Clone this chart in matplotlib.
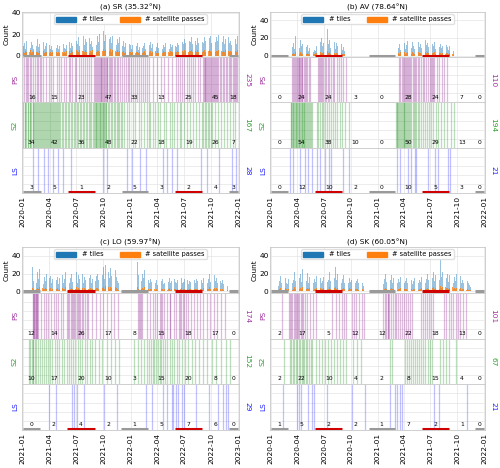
import numpy as np
import pandas as pd
import matplotlib
matplotlib.use("Agg")
import matplotlib.pyplot as plt
import matplotlib.dates as mdates
from matplotlib.patches import Patch

# ---------------------------------------------------------------
# data
# tiles / passes: one value per 4-day bin from the panel start
# PS/S2/LS: acquisition days counted from the panel start
# ---------------------------------------------------------------
titles = ["(a) SR (35.32°N)", "(b) AV (78.64°N)", "(c) LO (59.97°N)", "(d) SK (60.05°N)"]
starts = ["2020-01-01", "2020-01-01", "2021-01-01", "2020-01-01"]

tiles_a = [9, 12, 6, 14, 8, 11, 7, 13, 10, 6, 12, 9, 15, 8, 11, 7, 10, 13, 6, 9, 12, 8, 10,
           6, 9, 5, 11, 8, 7, 10, 6, 9, 5, 8, 11, 7, 6, 10, 8, 13, 7, 12, 9, 16, 10, 14,
           11, 17, 9, 14, 12, 18, 10, 15, 13, 9, 16, 11, 14, 8, 12, 15, 10, 18, 13, 20, 12, 16, 23,
           14, 19, 11, 22, 15, 17, 12, 18, 13, 16, 10, 15, 12, 17, 11, 9, 14, 8, 12, 15, 7, 11, 10,
           6, 10, 13, 7, 9, 12, 5, 8, 11, 7, 9, 12, 6, 10, 8, 10, 13, 7, 11, 9, 14, 8, 12,
           7, 11, 9, 6, 10, 8, 12, 7, 9, 6, 11, 8, 10, 7, 9, 8, 12, 10, 14, 9, 13, 11, 15,
           12, 16, 10, 14, 13, 17, 11, 15, 14, 10, 16, 12, 15, 11, 13, 12, 17, 14, 19, 13, 16, 18, 12,
           15, 20, 13, 17, 14, 19, 12, 16, 13, 18, 11, 15, 14, 17, 12, 14, 10, 16, 12, 15, 11, 18]
passes_a = [3, 2, 4, 3, 2, 3, 5, 2, 3, 4, 2, 3, 3, 2, 4, 2, 3, 4, 2, 3, 3, 5, 2,
            3, 2, 3, 4, 2, 3, 2, 3, 2, 4, 3, 2, 3, 2, 4, 3, 4, 2, 5, 3, 4, 3, 5,
            4, 3, 5, 3, 4, 4, 3, 5, 3, 4, 2, 4, 3, 5, 3, 4, 3, 5, 4, 3, 5, 4, 6,
            4, 5, 3, 5, 4, 6, 3, 5, 3, 4, 3, 5, 3, 4, 3, 3, 4, 2, 3, 4, 2, 3, 3,
            2, 3, 4, 2, 3, 3, 2, 3, 3, 2, 3, 4, 2, 3, 2, 3, 4, 2, 3, 3, 4, 2, 4,
            2, 3, 3, 2, 4, 3, 3, 2, 3, 2, 4, 3, 3, 2, 3, 3, 4, 3, 4, 3, 4, 3, 5,
            4, 5, 3, 4, 4, 5, 3, 4, 4, 3, 5, 3, 4, 4, 3, 4, 5, 3, 5, 4, 5, 4, 3,
            4, 5, 3, 4, 4, 5, 3, 4, 3, 4, 3, 5, 4, 4, 3, 4, 3, 4, 3, 4, 3, 5]

tiles_b = ([0] * 18 +
           [10, 14, 8, 22, 12, 16, 9, 18, 11, 13, 7, 15, 10, 12, 6, 9, 5, 8, 4, 7, 6, 11,
            12, 9, 15, 20, 11, 14, 17, 10, 30, 13, 18, 9, 21, 12, 16, 8, 14, 11, 17, 9, 13, 7, 10, 6, 5] +
           [0] * 44 +
           [9, 13, 7, 16, 11, 14, 8, 12, 17, 10, 13, 9, 15, 11, 8, 14, 12, 16, 10, 13, 9, 15, 11, 18,
            12, 14, 10, 16, 9, 13, 11, 15, 8, 12, 14, 10, 13, 9, 11, 15, 8, 12, 10, 7, 11, 6, 9, 5] +
           [0] * 26)
passes_b = ([0] * 18 +
            [2, 3, 2, 4, 3, 3, 2, 4, 3, 2, 3, 2, 2, 3, 2, 2, 2, 3, 2, 2, 3, 3,
             3, 2, 4, 3, 3, 4, 3, 2, 5, 3, 4, 2, 4, 3, 3, 2, 3, 3, 4, 2, 3, 2, 2, 2, 2] +
            [0] * 44 +
            [3, 2, 4, 3, 3, 4, 2, 3, 4, 3, 3, 2, 4, 3, 2, 4, 3, 4, 3, 3, 2, 4, 3, 4,
             3, 4, 3, 4, 2, 3, 3, 4, 2, 3, 4, 3, 3, 2, 3, 4, 2, 3, 3, 2, 3, 2, 2, 2] +
            [0] * 26)

tiles_c = ([0] * 8 +
           [28, 12, 18, 9, 22, 14, 25, 11, 19, 8, 16, 12, 20, 10, 15, 17, 9, 14, 18, 11,
            13, 16, 8, 15, 12, 19, 10, 14, 22, 12, 17, 9, 15, 20, 11, 16, 13, 22, 10, 18,
            14, 12, 20, 9, 16, 13, 21, 11, 15, 18, 10, 14, 22, 12, 17, 20, 13, 24, 16, 19,
            28, 14, 30, 18, 22, 15, 26, 17, 20, 13, 24, 16, 12, 9] +
           [0] * 15 +
           [33, 18, 28, 12, 20, 15, 24, 10, 17, 13, 9, 14, 11, 8, 12, 10, 13, 7, 11, 9,
            12, 14, 8, 10, 13, 9, 11, 15, 10, 12, 8, 14, 11, 9, 13, 10, 12, 15, 9, 11,
            14, 10, 13, 8, 12, 11, 15, 9, 13, 10, 14, 12, 16, 11, 13, 9, 15, 12, 17, 10,
            14, 20, 11, 16, 13, 18, 12, 15, 10, 14, 12, 9, 13, 8, 11, 7, 6] +
           [0] * 9)
passes_c = ([0] * 8 +
            [4, 3, 5, 3, 4, 3, 5, 2, 4, 3, 3, 4, 3, 5, 3, 4, 2, 3, 4, 3,
             3, 4, 2, 3, 3, 4, 3, 3, 5, 3, 4, 2, 3, 4, 3, 4, 3, 5, 3, 4,
             3, 3, 4, 2, 4, 3, 5, 3, 3, 4, 3, 3, 5, 3, 4, 4, 3, 5, 4, 4,
             5, 3, 6, 4, 5, 3, 5, 4, 4, 3, 5, 4, 3, 2] +
            [0] * 15 +
            [5, 3, 5, 3, 4, 3, 5, 2, 4, 3, 2, 3, 3, 2, 3, 2, 3, 2, 3, 2,
             3, 3, 2, 3, 3, 2, 3, 4, 2, 3, 2, 3, 3, 2, 3, 3, 3, 4, 2, 3,
             3, 3, 3, 2, 3, 3, 4, 2, 3, 3, 3, 3, 4, 3, 3, 2, 4, 3, 4, 3,
             3, 5, 3, 4, 3, 4, 3, 4, 3, 3, 3, 2, 3, 2, 3, 2, 2] +
            [0] * 9)

tiles_d = ([0] * 6 +
           [6, 12, 17, 9, 13, 7, 15, 10, 8, 14, 11, 16, 9, 13, 22, 12, 18, 10, 15, 20,
            11, 25, 14, 19, 12, 21, 10, 16, 13, 18, 9, 14, 11, 17, 8, 13, 15, 10, 12, 16,
            9, 14, 11, 13, 22, 12, 18, 10, 15, 28, 13, 20, 11, 16, 9, 14, 18, 10, 12, 22,
            9, 15, 11, 13, 8, 17, 10, 12, 14, 9, 11, 8, 10, 6] +
           [0] * 16 +
           [8, 14, 20, 11, 16, 9, 13, 18, 10, 15, 12, 17, 9, 14, 11, 16, 13, 18, 10, 12,
            15, 9, 14, 11, 13, 8, 12, 15, 10, 14, 9, 13, 11, 16, 12, 18, 10, 14, 20, 13,
            17, 11, 15, 22, 12, 19, 14, 25, 13, 35, 16, 22, 12, 28, 15, 20, 11, 18, 13, 24,
            10, 16, 12, 20, 14, 11, 17, 9, 13, 10, 15, 8, 12, 9, 7, 5] +
           [0] * 11)
passes_d = ([0] * 6 +
            [2, 3, 4, 2, 3, 2, 4, 3, 2, 3, 3, 4, 2, 3, 5, 3, 4, 3, 3, 4,
             3, 5, 3, 4, 3, 4, 3, 4, 3, 4, 2, 3, 3, 4, 2, 3, 4, 3, 3, 4,
             2, 3, 3, 3, 5, 3, 4, 3, 4, 5, 3, 4, 3, 4, 2, 3, 4, 3, 3, 5,
             2, 4, 3, 3, 2, 4, 3, 3, 3, 2, 3, 2, 3, 2] +
            [0] * 16 +
            [2, 3, 4, 3, 4, 2, 3, 4, 3, 3, 3, 4, 2, 3, 3, 4, 3, 4, 3, 3,
             3, 2, 3, 3, 3, 2, 3, 3, 3, 3, 2, 3, 3, 4, 3, 4, 3, 3, 4, 3,
             4, 3, 4, 5, 3, 4, 3, 5, 3, 6, 4, 5, 3, 5, 4, 4, 3, 4, 3, 5,
             3, 4, 3, 4, 3, 3, 4, 2, 3, 3, 3, 2, 3, 2, 2, 2] +
            [0] * 11)

ps_a = [4, 9, 13, 18, 25, 29, 36, 40, 47, 52, 57, 63, 70, 77, 88, 96, 103, 115, 124, 131, 140, 147,
        155, 161, 168, 176, 181, 190, 197, 205, 212, 219, 226, 233, 240,
        246, 249, 252, 255, 258, 261, 264, 267, 270, 272, 275, 278, 281, 284, 287, 291, 295, 299,
        303, 308, 313, 318, 324, 330, 338, 343, 349, 356, 362, 368, 375, 381, 388, 395, 402, 409,
        416, 421, 430, 441, 455, 468, 480, 494, 507, 520, 527, 534, 541, 548, 556, 563, 571, 579,
        586, 594, 601, 611, 614, 617, 620, 623, 626, 629, 632, 635, 638, 641, 644, 648, 652, 656,
        660, 664, 669, 674, 679, 684, 689, 694, 701, 704, 708, 712, 716, 720, 724, 728]
s2_a = [2, 6, 8, 12, 16, 18, 23, 25, 28, 33, 35, 38, 42, 46, 48, 52, 55, 58, 62, 65, 68, 72, 76,
        78, 83, 85, 88, 92, 96, 98, 103, 105, 108, 113, 116, 118, 123, 127, 133, 137, 143, 147,
        153, 158, 162, 168, 172, 178, 183, 187, 193, 197, 203, 207, 213, 217, 223, 227, 233, 237,
        242, 245, 248, 250, 253, 255, 258, 261, 263, 266, 268, 271, 273, 276, 278, 281, 283, 288,
        292, 298, 302, 308, 312, 318, 322, 328, 332, 338, 343, 353, 362, 373, 382, 393, 402, 413,
        422, 428, 433, 443, 448, 458, 467, 478, 487, 498, 507, 513, 523, 532, 538, 548, 557, 568,
        577, 588, 597, 607, 613, 618, 623, 628, 633, 638, 643, 653, 663, 673, 683, 693, 703, 713, 722]
ls_a = [34, 51, 71, 84, 101, 118, 135, 165, 273, 286, 354, 371, 398, 418, 475, 488, 508, 525,
        606, 626, 667, 711, 724]

ps_b = [74, 77, 80, 83, 86, 89, 92, 95, 98, 101, 103, 105, 108, 112, 116, 120, 125, 130, 135,
        163, 166, 169, 172, 176, 180, 185, 190, 195, 200, 206, 212, 218, 225, 232, 240, 248, 258,
        440, 444, 448, 452, 456, 460, 463, 466, 470, 474, 478, 482, 486, 490, 494, 498, 503, 508,
        514, 520, 526, 532, 538, 545, 548, 552, 556, 560, 568, 576, 585, 595, 605]
s2_b = [68, 70, 72, 75, 77, 80, 82, 85, 87, 90, 92, 95, 97, 100, 102, 105, 108, 110, 113, 115,
        118, 121, 124, 127, 130, 133, 136, 140, 158, 163, 168, 174, 180, 186, 192, 198, 205, 212,
        220, 228, 236, 245, 255, 268, 428, 431, 434, 437, 440, 443, 446, 449, 452, 455, 458, 461,
        464, 467, 470, 474, 478, 482, 486, 490, 494, 498, 503, 508, 514, 520, 527, 534, 541, 549,
        557, 565, 574, 583, 593, 604, 617, 628]
ls_b = [67, 76, 101, 118, 126, 141, 158, 170, 187, 198, 207, 246, 269, 431, 444, 471, 481, 495,
        498, 539, 562, 572, 606, 613]

ps_c = [33, 35, 37, 39, 41, 43, 45, 47, 49, 51, 62, 70, 78, 86, 95, 104, 112, 120, 128, 136,
        150, 154, 158, 162, 166, 170, 174, 178, 182, 186, 190, 195, 200, 205, 210, 216, 222,
        236, 248, 260, 272, 285, 298, 310, 322, 390, 393, 398, 401, 405, 420, 432, 440, 448, 456,
        464, 468, 472, 480, 490, 498, 500, 512, 520, 528, 532, 536, 544, 548, 552, 560, 570, 580,
        590, 600, 612, 624, 636, 648, 660, 672, 684]
s2_c = [20, 25, 30, 33, 36, 40, 45, 52, 58, 64, 70, 78, 85, 92, 100, 108, 115, 124, 132, 140,
        148, 155, 162, 170, 178, 186, 194, 202, 210, 218, 226, 236, 246, 258, 270, 284, 298, 312,
        326, 376, 390, 402, 412, 420, 428, 434, 440, 446, 452, 458, 464, 470, 476, 482, 490, 498,
        506, 514, 522, 530, 540, 550, 560, 572, 584, 596, 610, 624, 640, 656, 672, 688, 704]
ls_c = [88, 114, 165, 172, 185, 206, 276, 320, 418, 438, 475, 488, 505, 508, 518, 525, 539, 545,
        586, 630, 663, 680, 690, 697]

ps_d = [38, 62, 66, 70, 74, 78, 82, 86, 90, 94, 98, 102, 106, 110, 116, 124, 134, 146, 155,
        210, 222, 234, 245, 249, 256, 277, 285, 293, 302, 311, 320, 385, 390, 395, 400, 402, 406,
        412, 418, 424, 430, 436, 442, 448, 455, 462, 470, 478, 485, 513, 520, 527, 534, 541, 548,
        556, 594, 602, 610, 618, 626, 634, 642, 650, 658, 668]
s2_d = [45, 64, 70, 75, 80, 85, 90, 95, 100, 105, 110, 115, 120, 125, 130, 136, 141, 156, 166,
        176, 186, 196, 206, 216, 226, 236, 246, 256, 280, 295, 310, 407, 414, 459, 466, 473, 480,
        487, 494, 501, 508, 515, 522, 530, 538, 546, 554, 580, 590, 600, 612, 636]
ls_d = [40, 88, 98, 104, 128, 141, 148, 192, 279, 323, 407, 424, 431, 441, 448, 559, 576, 673]

# seasonal counts (DJF, MAM, JJA, SON, DJF, MAM, JJA, SON, DJF) and totals
ps_n = [[16, 15, 23, 47, 33, 13, 25, 45, 18], [0, 24, 24, 3, 0, 28, 24, 7, 0],
        [12, 14, 26, 17, 8, 15, 18, 17, 0], [2, 17, 5, 12, 12, 22, 18, 13, 0]]
s2_n = [[34, 42, 36, 48, 22, 18, 19, 26, 7], [0, 54, 38, 10, 0, 50, 29, 13, 0],
        [10, 17, 20, 10, 3, 15, 20, 8, 0], [2, 22, 10, 4, 2, 8, 15, 4, 0]]
ls_n = [[3, 5, 1, 2, 5, 3, 2, 4, 3], [0, 12, 10, 2, 0, 10, 5, 3, 0],
        [0, 2, 4, 2, 1, 5, 7, 6, 0], [1, 5, 2, 2, 1, 7, 2, 1, 0]]
ps_tot = [235, 110, 174, 101]
s2_tot = [167, 194, 152, 67]
ls_tot = [28, 21, 29, 21]

tiles = [tiles_a, tiles_b, tiles_c, tiles_d]
passes = [passes_a, passes_b, passes_c, passes_d]
ps = [ps_a, ps_b, ps_c, ps_d]
s2 = [s2_a, s2_b, s2_c, s2_d]
ls = [ls_a, ls_b, ls_c, ls_d]

# ---------------------------------------------------------------
C_PS, C_S2, C_LS = "#a0309f", "#2f9e2f", "#1f1fff"
L_PS, L_S2, L_LS = "#8e1f8e", "#1f8f1f", "#3030ff"
GRID = "#e4e4e4"
SPINE = "#c8c8c8"
FS = 5.3

boxes = [(0.044, 0.5876, 0.434, 0.3868), (0.540, 0.5876, 0.430, 0.3868),
         (0.044, 0.0812, 0.434, 0.3910), (0.540, 0.0812, 0.430, 0.3910)]
ytops = [40.5, 49, 50, 50]


def season_edges(start):
    y = start.year
    edges = [start]
    for yy in (y, y + 1):
        for m in (3, 6, 9, 12):
            edges.append(pd.Timestamp(yy, m, 1))
    edges.append(pd.Timestamp(y + 2, 1, 1))
    return [mdates.date2num(e) for e in edges]


def style(ax):
    for s in ax.spines.values():
        s.set_color(SPINE)
        s.set_linewidth(0.6)
    ax.grid(True, color=GRID, lw=0.5)
    ax.set_axisbelow(True)
    ax.tick_params(length=0, labelsize=FS, pad=1)


def season_bars(ax, edges, y, lw):
    for k in range(len(edges) - 1):
        if k % 4 == 0:
            col = "#9a9a9a"
        elif k % 4 == 2:
            col = "#d00000"
        else:
            continue
        ax.plot([edges[k], edges[k + 1]], [y, y], color=col, lw=lw,
                solid_capstyle="butt", zorder=4)


fig = plt.figure(figsize=(5.0, 4.68), dpi=100)

for i in range(4):
    left, bottom, width, height = boxes[i]
    h = height / 4
    start = pd.Timestamp(starts[i])
    t0 = mdates.date2num(start)
    edges = season_edges(start)
    mids = [(edges[k] + edges[k + 1]) / 2 for k in range(len(edges) - 1)]

    axc = fig.add_axes([left, bottom + 3 * h, width, h])
    axp = fig.add_axes([left, bottom + 2 * h, width, h], sharex=axc)
    axs = fig.add_axes([left, bottom + h, width, h], sharex=axc)
    axl = fig.add_axes([left, bottom, width, h], sharex=axc)

    # count axis
    style(axc)
    xb = t0 + 4 * np.arange(len(tiles[i]))
    axc.bar(xb, tiles[i], width=2.4, align="edge", color="#1f77b4", alpha=0.45, lw=0)
    xp = t0 + 4 * np.arange(len(passes[i]))
    axc.bar(xp, passes[i], width=2.6, align="edge", color="#ff7f0e", alpha=0.8, lw=0)
    season_bars(axc, edges, 0, 2.2)
    axc.set_ylim(-1.5, ytops[i])
    axc.set_yticks([0, 20, 40])
    axc.set_ylabel("Count", fontsize=FS, labelpad=1)
    axc.set_title(titles[i], fontsize=FS, pad=2)
    axc.legend(handles=[Patch(color="#1f77b4", label="# tiles"),
                        Patch(color="#ff7f0e", label="# satellite passes")],
               loc="upper center", ncol=2, fontsize=4.8, frameon=True,
               edgecolor="#dddddd", framealpha=0.9, handlelength=3.0,
               handleheight=0.8, columnspacing=2.5, borderpad=0.3,
               bbox_to_anchor=(0.5, 1.02))
    plt.setp(axc.get_xticklabels(), visible=False)

    # PS / S2 / LS strips
    for ax, dates, col, lcol, name, nums, tot in (
            (axp, ps[i], C_PS, L_PS, "PS", ps_n[i], ps_tot[i]),
            (axs, s2[i], C_S2, L_S2, "S2", s2_n[i], s2_tot[i]),
            (axl, ls[i], C_LS, L_LS, "LS", ls_n[i], ls_tot[i])):
        style(ax)
        ax.set_ylim(0, 1)
        ax.set_yticks([0.2, 0.4, 0.6, 0.8])
        ax.set_yticklabels([])
        ax.vlines(t0 + np.array(dates), 0, 1, color=lcol, alpha=0.3 if name != "LS" else 0.3,
                  lw=0.9)
        for m, n in zip(mids, nums):
            ax.text(m, 0.12, str(n), fontsize=4.3, ha="center", va="center", zorder=5)
        ax.set_ylabel(name, color=col, fontsize=FS, labelpad=2)
        ax.text(1.025, 0.5, str(tot), color=col, fontsize=FS, rotation=270,
                ha="left", va="center", transform=ax.transAxes)
        if name != "LS":
            plt.setp(ax.get_xticklabels(), visible=False)

    season_bars(axl, edges, 0.025, 2.2)
    axl.xaxis.set_major_locator(mdates.MonthLocator(bymonth=[1, 4, 7, 10]))
    axl.xaxis.set_major_formatter(mdates.DateFormatter("%Y-%m"))
    plt.setp(axl.get_xticklabels(), rotation=90, fontsize=FS)
    axl.tick_params(axis="x", pad=2)
    axc.set_xlim(edges[0] - 3, edges[-1] + 3)

fig.savefig("out.png", dpi=100)
